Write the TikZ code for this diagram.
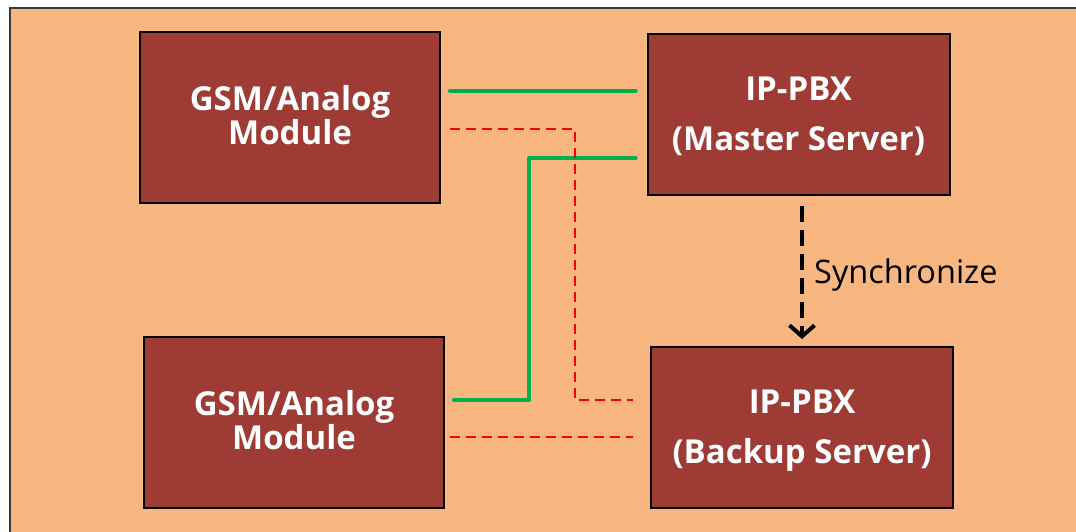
\documentclass[tikz,border=0pt]{standalone}
\usepackage{fontspec}
\setmainfont{Open Sans}
\usetikzlibrary{arrows.meta}
\definecolor{peach}{HTML}{F8B780}
\definecolor{brick}{HTML}{9E3B35}
\definecolor{lgreen}{HTML}{00B050}
\definecolor{lred}{HTML}{FF0000}
\definecolor{bordergray}{HTML}{3A3A3A}
\begin{document}
\begin{tikzpicture}[x=1pt,y=-1pt,
  box/.style={draw=black, line width=2pt, fill=brick, text=white, align=center, inner sep=0pt},
  gsmbox/.style={box, minimum width=300pt, minimum height=171pt, text depth=6pt, font=\fontsize{33}{32}\selectfont\bfseries},
  pbxbox/.style={box, minimum width=302pt, minimum height=161pt, text depth=2pt, font=\fontsize{33}{50}\selectfont\bfseries},
  gline/.style={draw=lgreen, line width=4.3pt, line cap=round, line join=round},
  rline/.style={draw=lred, line width=2.6pt, dash pattern=on 10pt off 6pt},
  syncline/.style={draw=black, line width=4pt, dash pattern=on 16pt off 8pt, -{Straight Barb[width=25pt,length=11pt,line width=4pt]}}
]
\useasboundingbox (0,0) rectangle (1076,532);
\draw[fill=peach, draw=bordergray, line width=2pt] (10,8) rectangle (1100,560);

\node[gsmbox] (g1) at (290,117.5) {GSM/Analog\\Module};
\node[gsmbox] (g2) at (294,422.5) {GSM/Analog\\Module};
\node[pbxbox] (m) at (798.5,114.5) {IP-PBX\\(Master Server)};
\node[pbxbox] (b) at (802,427.5) {IP-PBX\\(Backup Server)};

% green links
\draw[gline, shorten <=9pt, shorten >=11pt] (g1.east |- {(0,91)}) -- (m.west |- {(0,91)});
\draw[gline, shorten <=11pt, shorten >=9pt] (m.west |- {(0,158)}) -| (529,400) -- (g2.east |- {(0,400)});

% red dashed links
\draw[rline, shorten <=9pt, shorten >=17pt] (g1.east |- {(0,129)}) -| (575,400) -- (b.west |- {(0,400)});
\draw[rline, shorten <=5pt, shorten >=17pt] (g2.east |- {(0,437)}) -- (b.west |- {(0,437)});

% synchronize
\draw[syncline, shorten <=10pt, shorten >=7pt] (m.south -| b.north) -- (b.north);
\node[anchor=base west, inner sep=0pt, font=\fontsize{32.5}{36}\selectfont] (sync) at (814,283) {Synchronize};
\end{tikzpicture}
\end{document}
